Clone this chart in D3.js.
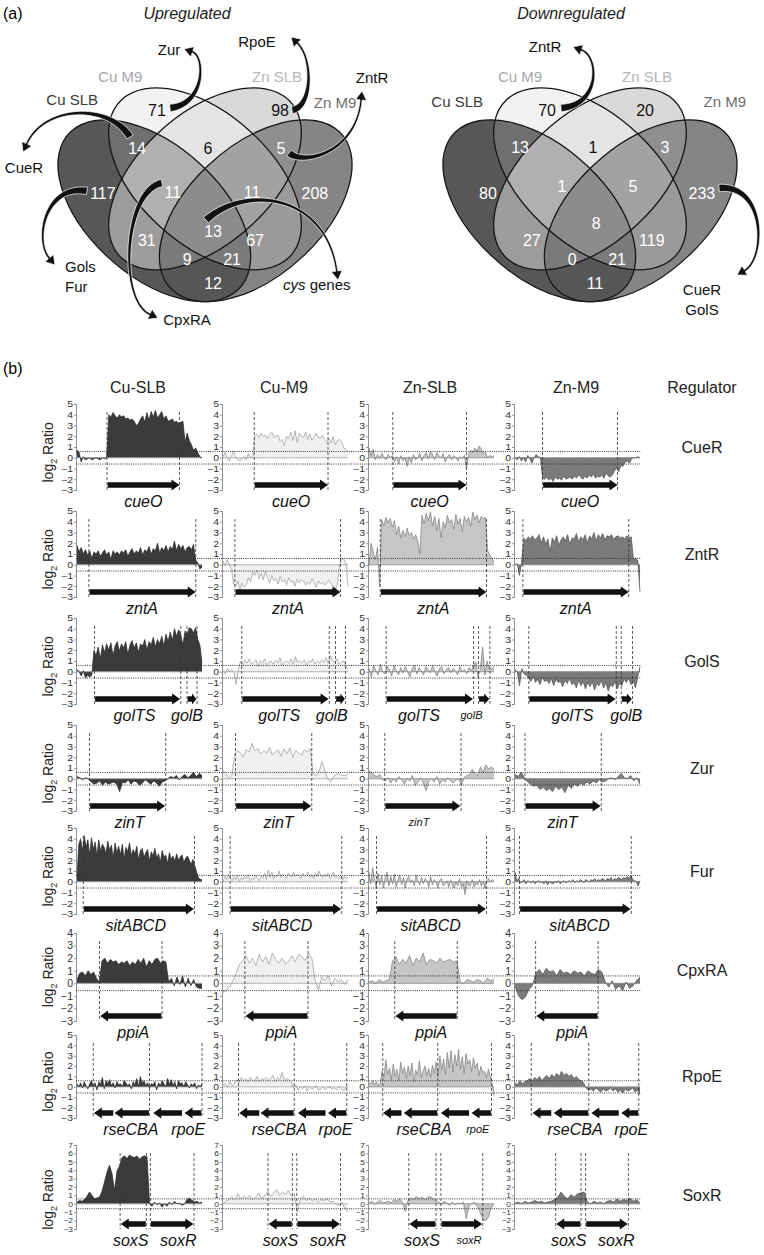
<!DOCTYPE html>
<html>
<head>
<meta charset="utf-8">
<script src="https://cdn.jsdelivr.net/npm/d3@7/dist/d3.min.js"></script>
<style>
html,body{margin:0;padding:0;background:#fff;}
svg{display:block;}
text{font-family:"Liberation Sans",Arial,Helvetica,sans-serif;}
</style>
</head>
<body>
<svg id="fig" width="764" height="1255"></svg>
<script>
// ================= (a) Venn data =================
const setNames = ["Cu SLB","Cu M9","Zn SLB","Zn M9"];
// region keys: digits = indices of sets the region belongs to
const regionKeys = ["0","1","2","3","01","12","23","02","13","03","012","123","013","023","0123"];
const upCounts   = [117,71,98,208,14,6,5,31,67,12,11,11,21,9,13];
const downCounts = [80,70,20,233,13,1,3,27,119,11,1,5,21,0,8];

// ================= (b) data =================
const colNames = ["Cu-SLB","Cu-M9","Zn-SLB","Zn-M9"];
const regulators = ["CueR","ZntR","GolS","Zur","Fur","CpxRA","RpoE","SoxR"];
const yMaxByRow = [5,5,5,5,5,4,5,7];
const yMinAll = -3;
const foldThreshold = 0.585;

// log2 ratio profiles (one array per column: Cu-SLB, Cu-M9, Zn-SLB, Zn-M9), samples evenly spaced along region
const prof_CueR = [
 [0.7,0.5,-0.4,0.1,-0.2,-0.1,0,-0.2,-0.1,0,-0.1,-0.2,0,-0.1,0,4.0,3.8,4.2,3.9,3.7,4.0,3.8,3.9,3.6,3.7,3.5,3.6,3.4,3.0,3.2,3.6,3.9,3.3,4.2,3.5,4.3,3.8,4.4,3.7,4.0,4.3,3.6,3.9,3.4,3.5,3.6,3.3,3.4,3.2,3.3,3.4,1.5,2.3,1.6,1.2,0.7,0.9,0.5,0.1,0.0],
 [0.1,0.5,0.0,-0.3,0.2,0.6,0.0,-0.2,-0.3,0.0,0.1,-0.2,0.4,0.0,0.1,2.0,2.2,1.9,2.3,2.0,2.1,1.8,2.2,2.4,1.9,2.0,2.1,1.5,1.7,1.1,2.0,1.8,2.4,1.6,2.5,1.4,2.3,2.0,1.9,2.4,1.7,2.2,1.6,2.0,2.3,1.9,1.8,2.1,1.7,1.5,1.8,1.4,2.0,1.2,1.6,1.7,1.5,0.9,0.8,0.6],
 [0.9,0.2,0.8,-0.2,0.3,-0.1,0.4,0.1,-0.2,0.3,0.0,0.2,-0.4,0.1,-0.6,0.2,-0.3,0.0,-0.8,0.1,-0.5,0.3,-0.2,0.0,0.4,-0.3,0.2,0.5,-0.1,0.6,0.3,-0.2,0.5,0.2,0.0,0.4,-0.4,0.1,0.3,-0.2,0.2,0.0,-0.3,0.1,-0.1,0.2,-1.1,0.3,0.7,0.5,0.9,0.6,1.1,0.8,0.4,0.5,0.0,0.2,0.1,0.2],
 [0.0,-0.2,0.1,-0.3,0.0,-0.4,0.2,-0.1,-0.5,0.0,0.3,0.1,0.0,-1.9,-2.0,-1.8,-2.1,-1.9,-2.2,-1.8,-2.0,-1.9,-2.1,-1.7,-2.0,-1.9,-1.8,-2.0,-1.7,-1.9,-1.6,-1.8,-2.0,-1.7,-1.9,-1.6,-1.8,-1.5,-1.9,-1.7,-1.8,-1.6,-1.9,-1.4,-1.7,-1.8,-1.6,-1.2,-1.0,-1.3,-0.7,-0.8,-0.4,-0.3,-0.5,-0.1,0.0,0.0,0.1,0.0]
];
const prof_ZntR = [
 [1.8,1.2,1.6,1.0,1.4,0.9,1.3,0.6,1.2,1.0,1.3,0.8,1.1,1.4,0.9,1.2,0.5,1.3,1.0,1.2,0.9,1.3,1.1,1.4,0.8,1.2,1.5,1.0,1.3,1.1,1.6,0.9,1.4,1.2,1.7,1.0,1.5,1.3,2.0,1.1,1.6,1.3,1.8,1.2,1.7,1.4,2.2,1.3,1.9,1.5,1.8,1.2,1.6,1.7,1.4,1.9,0.4,0.2,-0.4,-0.2],
 [0.3,-0.1,0.5,0.0,-0.4,-1.8,-2.0,-1.5,-2.3,-1.7,-2.1,-1.9,-1.2,-1.6,-0.7,-1.0,-0.5,-1.3,-0.8,-1.4,-0.6,-1.2,-1.7,-1.0,-1.5,-1.3,-1.8,-1.1,-1.6,-1.4,-1.9,-1.2,-1.6,-1.5,-2.0,-1.3,-1.7,-1.4,-1.5,-1.9,-1.6,-1.8,-1.3,-1.7,-2.1,-1.5,-1.8,-1.6,-1.9,-1.7,-1.4,-1.8,-2.0,-2.3,-1.9,0.0,0.6,0.5,0.2,-2.0],
 [-0.1,2.0,1.2,0.5,1.6,-2.0,4.2,3.6,4.4,3.9,4.3,3.5,4.1,2.8,3.6,2.5,3.2,2.6,3.4,2.7,3.0,2.4,2.8,2.2,1.0,4.6,3.8,4.8,4.1,4.9,3.6,4.5,3.2,4.3,2.5,4.0,3.4,4.6,3.9,4.2,3.3,4.7,3.8,4.3,3.1,4.5,4.0,4.4,3.6,4.9,4.2,4.6,3.9,4.5,4.3,4.4,1.3,0.9,0.6,0.2],
 [0.0,0.1,-1.0,0.2,2.5,2.2,2.6,2.4,2.7,2.3,2.5,2.8,2.0,2.6,1.9,2.4,1.2,2.5,2.1,2.7,1.8,2.3,2.6,2.2,2.8,1.9,2.5,2.4,2.9,2.1,2.6,2.3,2.8,2.0,2.7,2.4,3.0,2.2,2.8,2.5,2.9,2.3,2.7,2.6,2.8,2.4,2.6,2.7,2.5,2.6,2.4,2.7,2.5,2.6,0.5,0.6,0.4,-2.5]
];
const prof_GolS = [
 [0.2,0.0,-0.4,0.1,-0.6,-0.3,-0.5,-0.3,2.0,1.5,2.3,1.2,2.5,1.8,2.6,2.0,2.7,1.5,2.4,2.8,1.9,2.6,2.2,2.8,1.6,2.5,2.9,2.2,2.7,1.8,2.6,2.4,3.0,2.0,2.8,2.5,3.2,2.3,3.0,2.6,3.3,2.4,3.5,2.8,3.7,2.9,4.0,3.3,3.9,3.4,2.5,3.8,3.5,4.1,4.0,3.6,4.1,3.0,2.5,0.8],
 [0.1,-0.2,0.3,0.0,0.2,-0.1,-1.2,0.2,1.0,0.6,1.1,0.8,1.2,0.7,0.9,1.1,0.5,1.0,0.8,1.2,0.6,0.9,1.0,0.7,1.1,0.8,1.3,0.6,0.9,1.0,0.8,1.2,0.7,1.4,0.9,1.0,0.8,1.1,0.6,1.0,0.9,1.2,0.7,1.0,0.8,1.1,0.9,1.3,0.8,1.5,1.0,0.9,1.2,0.7,0.9,1.0,0.6,0.2],
 [0.3,-0.5,0.6,0.1,-0.3,0.7,0.0,-0.2,0.5,0.2,-0.4,0.6,0.1,-0.3,0.4,-0.1,0.5,0.0,-0.5,0.3,0.6,-0.2,0.4,0.1,-0.3,0.5,0.2,-0.1,0.6,0.0,-0.4,0.3,0.5,-0.2,0.2,0.4,-0.1,0.3,0.1,-0.3,0.5,0.0,0.2,-0.2,0.4,0.1,0.6,0.9,-0.5,0.3,2.3,-0.3,1.0,0.2,0.3,0.5],
 [0.2,0.0,-1.3,0.3,-0.2,-0.3,-0.6,-0.9,-0.4,-1.0,-0.7,-1.2,-0.5,-0.9,-0.8,-1.1,-0.6,-1.3,-0.7,-1.0,-0.9,-1.4,-0.8,-1.1,-0.6,-1.2,-1.0,-1.5,-0.8,-1.3,-0.9,-1.6,-1.0,-1.4,-0.9,-1.7,-1.1,-1.3,-0.8,-1.5,-1.0,-1.8,-1.2,-1.4,-0.9,-1.6,-1.1,-1.3,-0.7,-1.0,-0.6,-1.2,-0.8,-1.5,-0.5,0.5]
];
const prof_Zur = [
 [0.2,0.1,-0.1,0.1,0.0,-0.3,-0.5,-0.4,-0.2,-0.6,-0.3,-0.5,-0.4,-0.3,-0.5,-1.2,-0.3,-0.4,-0.1,-0.5,-0.2,-0.3,-0.6,-0.4,-0.1,-0.3,-0.5,-0.2,-0.4,-0.7,-0.3,-0.2,0.0,0.2,0.1,0.3,-0.1,0.2,0.4,0.1,0.3,0.6,0.2,0.5,0.3],
 [0.8,0.5,0.0,0.3,2.3,2.6,2.4,2.0,2.7,2.5,3.3,2.6,2.8,2.3,2.6,2.4,2.9,2.2,2.5,2.7,2.1,2.8,2.3,2.9,2.0,2.6,2.4,2.2,2.7,2.5,2.8,0.5,0.3,0.6,1.6,0.8,0.0,-0.3,0.2,0.4,0.5,0.3,0.3,0.4],
 [0.7,0.6,0.3,0.2,0.4,-0.1,-0.2,0.1,-0.4,0.0,-0.3,0.2,-0.1,-0.5,0.0,-0.2,0.3,-0.6,-0.3,0.1,-0.4,-1.1,-0.2,0.0,-0.3,0.2,-0.5,-0.1,-0.3,0.1,-0.2,-0.4,-0.1,0.0,-0.6,0.1,0.3,0.4,0.9,0.5,0.3,1.1,0.6,1.3,0.9,1.1,0.9],
 [0.4,0.2,0.6,0.1,-0.3,-0.5,-0.7,-0.6,-1.0,-0.8,-1.1,-0.9,-1.2,-0.7,-1.0,-0.8,-1.3,-0.6,-0.9,-0.5,-0.7,-0.4,-0.6,-0.3,-0.5,-0.2,-0.4,-0.1,-0.3,-0.2,0.0,0.1,-0.1,0.2,0.5,0.1,0.0,0.3,-0.2,0.1,-0.5]
];
const prof_Fur = [
 [0.5,3.5,4.0,2.8,4.3,3.2,3.9,2.5,4.1,3.0,3.7,2.4,3.9,2.8,3.5,3.2,2.6,3.8,2.9,3.4,2.2,3.6,2.7,3.3,2.5,3.5,2.1,3.2,2.8,3.6,2.4,3.0,2.6,3.3,2.0,2.9,3.1,2.3,2.7,3.0,1.9,2.8,2.4,3.1,2.2,2.6,1.8,2.9,2.3,2.5,1.7,2.7,2.1,2.4,1.9,2.6,2.0,2.3,2.5,1.8,2.2,2.4,2.0,1.6,2.1,1.5,0.9,0.4,0.2,0.2],
 [0.0,0.5,0.2,0.7,0.3,0.1,0.5,0.2,0.6,0.0,0.4,0.2,0.5,0.3,0.7,0.1,0.4,0.2,0.6,0.3,0.1,0.5,0.3,0.8,0.2,1.1,0.4,0.9,0.3,0.6,0.5,1.0,0.4,0.7,0.5,0.3,0.8,0.6,0.4,0.9,0.5,0.7,0.6,0.3,0.8,0.5,0.6,0.9,0.4,0.7,0.3,0.8,0.5,1.0,0.6,0.4,0.7,0.5,0.8,0.3,0.6,0.9,0.4,0.5,0.3,0.6,0.2,0.5,0.3,0.4],
 [0.9,-0.2,1.3,0.3,-0.5,0.8,-0.3,0.6,-0.6,0.4,0.9,-0.4,0.5,-0.2,0.7,-0.5,0.2,0.6,-0.3,0.4,-0.6,0.3,0.5,-0.1,0.2,-0.4,0.6,0.0,-0.3,0.4,-0.2,0.3,0.1,-0.5,0.5,-0.3,0.2,0.0,-0.6,0.1,0.3,-0.4,-0.2,0.1,-0.5,0.2,-0.3,-0.6,0.0,-0.4,0.3,-0.5,-0.2,-1.2,0.1,-0.4,-0.3,0.2,-0.5,-0.1,-0.3,0.2,-0.4,0.0,-0.6,0.1,0.3,0.0,0.2,0.1],
 [0.9,0.1,0.3,-0.1,0.0,0.2,-0.2,0.1,0.0,-0.1,0.1,-0.2,0.0,0.1,-0.1,0.0,-0.2,0.1,-0.3,0.0,-0.1,-0.2,0.0,-0.1,0.1,-0.2,0.0,0.1,-0.1,0.0,0.1,0.0,0.2,-0.1,0.1,0.0,0.2,0.1,-0.1,0.2,0.1,0.0,0.2,0.1,0.3,0.0,0.2,0.1,0.3,0.2,0.1,0.3,0.2,0.4,0.1,0.3,0.2,0.4,0.3,0.2,0.4,0.3,0.5,0.3,0.6,0.2,0.1,0.0,-0.4,0.1]
];
const prof_CpxRA = [
 [0.3,0.8,0.9,0.6,1.0,0.7,0.9,0.4,0.1,1.8,2.0,1.6,1.9,1.7,1.8,1.5,1.7,1.6,1.8,1.4,1.7,1.5,1.9,1.6,2.0,1.3,1.8,1.5,1.9,2.0,1.6,1.8,1.7,0.1,0.4,-0.2,0.5,-0.1,0.6,-0.3,0.4,-0.2,0.3,-0.3,-0.4,-0.4],
 [-0.7,-0.6,-0.3,0.2,0.8,1.5,1.8,2.2,1.6,2.0,1.4,2.3,1.7,2.1,1.5,2.4,1.9,1.6,2.0,1.5,1.8,2.2,1.7,2.3,2.1,1.8,2.4,2.0,0.3,-0.6,0.5,0.2,0.6,-0.2,0.4,0.1,0.3,-0.1,0.3],
 [0.1,0.2,0.0,0.3,0.1,0.2,0.3,1.8,2.1,1.5,1.9,1.6,2.2,1.4,2.0,1.7,2.4,1.5,1.9,1.8,1.6,2.0,1.7,1.8,1.9,1.7,1.8,0.1,0.0,0.3,0.2,0.1,0.3,0.2,0.0,0.4,0.2,0.3],
 [-0.2,-1.0,-1.3,-1.1,-0.5,-0.2,0.8,1.1,0.7,1.2,0.9,1.0,0.6,1.1,0.8,0.9,0.7,1.0,0.8,0.9,0.6,1.0,0.8,0.7,1.1,0.9,0.1,-0.3,0.2,-0.5,-0.2,-0.6,0.1,-0.4,-0.2,0.2,0.5]
];
const prof_RpoE = [
 [0.3,0.0,0.4,-0.1,0.5,0.1,-0.2,0.3,0.6,0.0,0.4,-0.3,0.5,0.2,0.9,-0.2,0.6,0.3,0.7,0.1,0.4,-0.1,0.5,0.2,0.3,0.0,0.6,0.4,0.1,0.3,-0.2,0.5,0.2,0.8,0.0,1.0,0.3,0.6,0.1,0.4,-0.1,0.3,0.2,0.5,-0.3,0.4,0.1,0.6,0.3,0.0,0.8,0.2,0.7,0.1,0.5,-0.2,0.6,0.3,0.4,0.0,0.5,0.2,-0.1,0.3,0.1,0.4,-0.2,0.2,0.0,0.3],
 [0.2,0.3,0.0,0.5,0.1,0.3,0.7,0.4,0.9,0.6,0.8,0.5,0.9,0.7,0.6,1.0,0.5,0.8,0.7,0.9,0.6,0.8,1.1,0.5,0.9,0.7,1.4,0.6,0.8,0.7,0.5,-0.1,0.2,-0.3,0.0,-0.2,0.1,-0.4,0.0,-0.2,-0.1,0.1,-0.3,-0.2,0.0,-0.3,-0.1,0.0,-0.2,-0.1,-0.3,0.0,-0.2,-0.4,-0.1,0.0],
 [0.4,0.3,0.6,0.2,0.5,0.1,0.4,1.5,0.9,2.6,1.2,1.8,0.7,2.2,1.0,1.7,0.6,2.4,1.3,1.9,0.8,2.0,1.1,2.3,0.5,1.6,1.2,2.5,0.9,1.5,2.0,1.1,1.8,0.9,2.1,1.3,2.4,1.0,3.0,1.6,2.7,1.2,3.3,1.8,3.5,1.4,3.1,2.0,3.6,1.7,2.9,1.3,3.2,2.2,2.6,1.5,2.8,1.8,2.3,1.1,2.0,1.4,1.5,0.9,1.7,1.0,0.3,-0.8],
 [0.4,0.2,0.6,0.3,0.5,0.6,0.8,0.5,0.9,0.7,1.0,0.6,0.9,1.1,0.8,1.2,0.9,1.3,1.0,1.5,1.1,1.3,1.0,1.2,0.8,1.0,0.7,0.6,0.4,-0.1,-0.3,-0.2,-0.4,-0.1,-0.3,-0.5,-0.2,-0.4,-0.3,-0.1,-0.4,-0.2,-0.5,-0.3,-0.6,-0.2,-0.4,-0.3,-0.1,-0.5,-0.3,-0.7]
];
const prof_SoxR = [
 [0.2,0.4,0.3,0.5,0.9,1.4,1.0,0.6,0.7,0.8,1.5,2.6,3.8,4.6,3.6,1.6,3.9,4.5,5.5,5.7,5.4,5.8,5.6,5.5,5.7,5.3,5.6,5.7,5.6,0.2,-0.3,0.2,-0.1,0.1,-0.4,0.0,-0.3,0.2,-0.1,0.3,0.0,0.1,-0.2,0.0,0.5,0.7,0.4,0.2,0.3,0.1,0.2],
 [0.0,0.3,0.5,0.8,0.4,1.2,0.6,0.9,0.7,1.0,0.5,0.8,1.3,0.6,1.0,1.5,0.9,1.3,1.7,1.0,1.4,1.1,1.6,0.9,1.2,-1.0,0.6,0.9,0.4,0.7,0.3,0.6,0.2,0.5,0.4,0.6,0.2,0.3,0.0,-0.2,0.2,-0.6,-1.0],
 [0.1,0.3,0.0,0.2,0.4,0.1,0.2,0.3,0.1,0.5,0.3,0.6,0.2,-0.9,0.4,0.7,0.5,0.9,0.6,0.8,0.5,0.7,0.9,0.6,0.4,0.2,0.0,0.3,0.1,-0.2,0.2,-0.1,0.1,0.0,0.2,-1.8,-0.3,0.0,0.2,-0.3,-1.0,-1.9,-2.0,-1.6,-0.5,0.0],
 [0.1,0.2,0.0,0.3,0.1,0.2,0.4,0.2,0.3,0.1,0.2,0.3,0.5,0.8,1.4,0.9,0.6,1.1,0.8,1.2,1.3,1.4,0.2,0.0,0.3,0.1,0.2,0.0,0.3,0.4,0.2,0.6,0.3,0.5,0.4,0.7,0.3,0.5,0.1]
];

// gene annotation (positions in % of panel region): dash = boundary lines, arr = [start,end,direction], lab = [name, centre]
const genes_CueR = [
 {dash:[24,82], arr:[[24.5,82,1]], lab:[["cueO",53]]},
 {dash:[25,84], arr:[[25.5,84,1]], lab:[["cueO",54.5]]},
 {dash:[19,78], arr:[[19.5,78,1]], lab:[["cueO",48.5]]},
 {dash:[22,82], arr:[[22.5,82,1]], lab:[["cueO",52]]}];
const genes_ZntR = [
 {dash:[9.5,95], arr:[[10,95,1]], lab:[["zntA",52]]},
 {dash:[9.5,94], arr:[[10,94,1]], lab:[["zntA",52]]},
 {dash:[9,94], arr:[[9.5,94,1]], lab:[["zntA",51.5]]},
 {dash:[6.3,91], arr:[[6.8,91,1]], lab:[["zntA",48.6]]}];
const genes_GolS = [
 {dash:[14,83,88,96], arr:[[14.5,82.5,1],[88.5,95.5,1]], lab:[["golTS",46],["golB",88]]},
 {dash:[15,85,90,98], arr:[[15.5,84.5,1],[90.5,97.5,1]], lab:[["golTS",45],["golB",87]]},
 {dash:[13.7,83.7,87.6,96.7], arr:[[14.2,83.2,1],[88.1,96.2,1]], lab:[["golTS",40],["golB",82]]},
 {dash:[11,81,85,94], arr:[[11.5,80.5,1],[85.5,93.5,1]], lab:[["golTS",46],["golB",89]]}];
const genes_Zur = [
 {dash:[10,71], arr:[[10.5,70.5,1]], lab:[["zinT",42]]},
 {dash:[10,71], arr:[[10.5,70.5,1]], lab:[["zinT",44.4]]},
 {dash:[12.6,73.6], arr:[[13.1,73.1,1]], lab:[["zinT",40]]},
 {dash:[8,69], arr:[[8.5,68.5,1]], lab:[["zinT",38]]}];
const genes_Fur = [
 {dash:[5,94], arr:[[5.5,93.5,1]], lab:[["sitABCD",47]]},
 {dash:[5.7,95], arr:[[6.2,94.5,1]], lab:[["sitABCD",47.3]]},
 {dash:[6,94], arr:[[6.5,93.5,1]], lab:[["sitABCD",49.3]]},
 {dash:[3.6,93], arr:[[4.1,92.5,1]], lab:[["sitABCD",51.6]]}];
const genes_CpxRA = [
 {dash:[18,68], arr:[[18.5,67.5,-1]], lab:[["ppiA",45]]},
 {dash:[17.5,68], arr:[[18,67.5,-1]], lab:[["ppiA",46.8]]},
 {dash:[20.6,70.6], arr:[[21.1,70.1,-1]], lab:[["ppiA",49.8]]},
 {dash:[16.5,66.5], arr:[[17,66,-1]], lab:[["ppiA",45.8]]}];
const genes_RpoE = [
 {dash:[13,58,100], arr:[[13.5,29,-1],[30,57.5,-1],[61,84,-1],[86,99.5,-1]], lab:[["rseCBA",43],["rpoE",89]]},
 {dash:[12.4,57,99], arr:[[12.9,29,-1],[30,56.5,-1],[60,82,-1],[84,98.5,-1]], lab:[["rseCBA",45],["rpoE",90]]},
 {dash:[11,55,98], arr:[[11.2,26,-1],[27.8,54.5,-1],[57.5,80,-1],[82,97.5,-1]], lab:[["rseCBA",44],["rpoE",87]]},
 {dash:[13,59,99], arr:[[14,29,-1],[31,58.5,-1],[61,83,-1],[85,98.5,-1]], lab:[["rseCBA",48],["rpoE",93]]}];
const genes_SoxR = [
 {dash:[34.5,55.5,58.7,93.6], arr:[[35,55,-1],[59.2,93.1,1]], lab:[["soxS",43],["soxR",81]]},
 {dash:[36,55.5,59,94], arr:[[36.5,55,-1],[59.5,93.5,1]], lab:[["soxS",46],["soxR",84]]},
 {dash:[31.8,53.6,57.5,91], arr:[[32.3,53.1,-1],[58,90.5,1]], lab:[["soxS",42.5],["soxR",80]]},
 {dash:[32.5,52.8,56.5,90.7], arr:[[33,52.3,-1],[57,90.2,1]], lab:[["soxS",43],["soxR",81]]}];
// gene names printed in the smaller font (row, column, name)
const smallGeneLabels = [[2,2,"golB"],[3,2,"zinT"],[6,2,"rpoE"],[7,2,"soxR"]];

// ================= styling / layout =================
const regionFill = ["#575757","#f2f2f2","#d9d9d9","#858585","#6f6f6f","#e4e4e4","#8f8f8f","#9c9c9c","#9a9a9a","#565656","#b0b0b0","#a2a2a2","#7a7a7a","#7a7a7a","#8c8c8c"];
const regionTextColor = ["#fff","#111","#111","#fff","#fff","#111","#fff","#fff","#fff","#fff","#fff","#fff","#fff","#fff","#fff"];
const setLabelColor = ["#3a3a3a","#a6a6a6","#b6b6b6","#6d6d6d"];
const ellCx=[0.35,0.5,0.5,0.65], ellCy=[0.47,0.57,0.57,0.47], ellRot=[135,135,45,45], ellA=0.35, ellB=0.2;
const upLabelPos=[[0.198,0.526],[0.358,0.785],[0.722,0.785],[0.825,0.526],[0.299,0.664],[0.509,0.664],[0.725,0.664],[0.328,0.378],[0.648,0.378],[0.524,0.243],[0.405,0.529],[0.639,0.529],[0.580,0.316],[0.447,0.316],[0.524,0.404]];
const downLabelPos=[[0.198,0.526],[0.373,0.785],[0.663,0.785],[0.831,0.526],[0.293,0.670],[0.509,0.670],[0.722,0.670],[0.328,0.378],[0.683,0.378],[0.515,0.243],[0.417,0.545],[0.627,0.545],[0.580,0.316],[0.447,0.316],[0.518,0.430]];
const upSetLabelPos=[[0.107,0.817],[0.249,0.889],[0.713,0.889],[0.885,0.808]];
const downSetLabelPos=[[0.107,0.811],[0.293,0.889],[0.669,0.889],[0.899,0.811]];
const upCallouts = [
 {lines:["Zur"], x:169, y:50, anchor:"middle", path:[[170,108],[206,104],[205,56],[184,49]]},
 {lines:["RpoE"], x:257, y:42, anchor:"middle", path:[[292,110],[313,107],[313,58],[291,37]]},
 {lines:["ZntR"], x:372, y:78, anchor:"middle", path:[[289,153],[305,166],[356,152],[362,91]]},
 {lines:["CueR"], x:24, y:168, anchor:"middle", path:[[130,137],[110,104],[45,104],[23,152]]},
 {lines:["Gols","Fur"], x:65, y:267, anchor:"start", path:[[87,191],[45,184],[34,240],[55,265]]},
 {lines:["CpxRA"], x:187, y:320, anchor:"middle", path:[[162,183],[124,190],[118,300],[158,318]]},
 {lines:["cys genes"], x:283, y:285, anchor:"start", italicFirst:true, path:[[206,220],[246,184],[326,194],[338,280]]}
];
const downCallouts = [
 {lines:["ZntR"], x:545, y:47, anchor:"middle", path:[[561,108],[601,105],[599,56],[573,47]]},
 {lines:["CueR","GolS"], x:702, y:290, anchor:"middle", path:[[719,188],[766,184],[766,258],[737,275]]}
];

const svg = d3.select("#fig");
const defs = svg.append("defs");

// ---------------- (a) ----------------
svg.append("text").attr("x",3).attr("y",19).attr("font-size",16).text("(a)");
svg.append("text").attr("x",187).attr("y",19).attr("font-size",16).attr("font-style","italic").attr("text-anchor","middle").attr("fill","#222").text("Upregulated");
svg.append("text").attr("x",571).attr("y",19).attr("font-size",16).attr("font-style","italic").attr("text-anchor","middle").attr("fill","#222").text("Downregulated");

const vennW = 338, vennH = 319, vennBase = 360.7;

function bez(P,t){const u=1-t;return [u*u*u*P[0][0]+3*u*u*t*P[1][0]+3*u*t*t*P[2][0]+t*t*t*P[3][0], u*u*u*P[0][1]+3*u*u*t*P[1][1]+3*u*t*t*P[2][1]+t*t*t*P[3][1]];}
function bezD(P,t){const u=1-t;return [3*u*u*(P[1][0]-P[0][0])+6*u*t*(P[2][0]-P[1][0])+3*t*t*(P[3][0]-P[2][0]), 3*u*u*(P[1][1]-P[0][1])+6*u*t*(P[2][1]-P[1][1])+3*t*t*(P[3][1]-P[2][1])];}
function swoosh(g, pts){
  const tip=pts[3], p2=pts[2];
  let dx=tip[0]-p2[0], dy=tip[1]-p2[1]; const L=Math.hypot(dx,dy); dx/=L; dy/=L;
  const headL=9, headW=5.5;
  const base=[tip[0]-dx*headL, tip[1]-dy*headL];
  const P=[pts[0],pts[1],pts[2],base];
  const N=48, left=[], right=[];
  for(let i=0;i<=N;i++){
    const t=i/N, b=bez(P,t), d=bezD(P,t), l=Math.hypot(d[0],d[1])||1;
    const nx=-d[1]/l, ny=d[0]/l;
    const w=(2.2+(7.5-2.2)*Math.pow(1-t,2.2))/2;
    left.push([b[0]+nx*w,b[1]+ny*w]); right.push([b[0]-nx*w,b[1]-ny*w]);
  }
  const poly=left.concat([[base[0]-dy*headW, base[1]+dx*headW],[tip[0],tip[1]],[base[0]+dy*headW, base[1]-dx*headW]]).concat(right.reverse());
  g.append("path").attr("d", d3.line()(poly)+"Z").attr("fill","#111").attr("stroke","#fff").attr("stroke-width",0.7).attr("stroke-linejoin","round");
}

function drawVenn(idx, frameX, counts, labelPos, setPos, callouts){
  const xs=d3.scaleLinear().domain([0,1]).range([frameX, frameX+vennW]);
  const ys=d3.scaleLinear().domain([0,1]).range([vennBase, vennBase-vennH]);
  const kx=xs(1)-xs(0), ky=ys(1)-ys(0);
  const g=svg.append("g").attr("transform",`translate(${xs(0)},${ys(0)}) scale(${kx},${ky})`);
  for(let i=0;i<4;i++){
    defs.append("clipPath").attr("id",`v${idx}c${i}`).append("ellipse")
      .attr("rx",ellA).attr("ry",ellB).attr("transform",`translate(${ellCx[i]},${ellCy[i]}) rotate(${ellRot[i]})`);
  }
  const order=regionKeys.map((k,i)=>i).sort((a,b)=>regionKeys[a].length-regionKeys[b].length);
  order.forEach(ri=>{
    let gg=g;
    for(const ch of regionKeys[ri]) gg=gg.append("g").attr("clip-path",`url(#v${idx}c${ch})`);
    gg.append("rect").attr("x",-0.1).attr("y",-0.1).attr("width",1.2).attr("height",1.2).attr("fill",regionFill[ri]);
  });
  for(let i=0;i<4;i++){
    g.append("ellipse").attr("rx",ellA).attr("ry",ellB).attr("transform",`translate(${ellCx[i]},${ellCy[i]}) rotate(${ellRot[i]})`)
      .attr("fill","none").attr("stroke","#161616").attr("stroke-width",1.3).attr("vector-effect","non-scaling-stroke");
  }
  setNames.forEach((s,i)=>{
    svg.append("text").attr("x",xs(setPos[i][0])).attr("y",ys(setPos[i][1])).attr("dy","0.35em")
      .attr("text-anchor","middle").attr("font-size",15).attr("fill",setLabelColor[i]).text(s);
  });
  const ag=svg.append("g");
  callouts.forEach(c=>swoosh(ag,c.path));
  counts.forEach((c,i)=>{
    svg.append("text").attr("x",xs(labelPos[i][0])).attr("y",ys(labelPos[i][1])).attr("dy","0.35em")
      .attr("text-anchor","middle").attr("font-size",16).attr("fill",regionTextColor[i]).text(c);
  });
  callouts.forEach(c=>{
    c.lines.forEach((ln,j)=>{
      const t=svg.append("text").attr("x",c.x).attr("y",c.y+j*20).attr("dy","0.35em").attr("text-anchor",c.anchor).attr("font-size",15).attr("fill","#111");
      if(c.italicFirst){ const parts=ln.split(" "); t.append("tspan").attr("font-style","italic").text(parts[0]); t.append("tspan").text(" "+parts.slice(1).join(" ")); }
      else t.text(ln);
    });
  });
}
drawVenn(0, 36, upCounts, upLabelPos, upSetLabelPos, upCallouts);
drawVenn(1, 421, downCounts, downLabelPos, downSetLabelPos, downCallouts);

// ---------------- (b) ----------------
const profileRows=[prof_CueR,prof_ZntR,prof_GolS,prof_Zur,prof_Fur,prof_CpxRA,prof_RpoE,prof_SoxR];
const geneRows=[genes_CueR,genes_ZntR,genes_GolS,genes_Zur,genes_Fur,genes_CpxRA,genes_RpoE,genes_SoxR];
const rowTops=[404,511,618,725,828,933,1035,1145];
const rowHeights=[86,86,86,86,86,88,83,84];
const panelW=126, axisX0=76, colPitch=146;
const colFill=["#3b3b3b","#f0f0f0","#c6c6c6","#7b7b7b"];
const colLine=["#262626","#9a9a9a","#7a7a7a","#4f4f4f"];
const colBase=["#9a9a9a","#b5b5b5","#9a9a9a","#8a8a8a"];

svg.append("text").attr("x",3).attr("y",374).attr("font-size",16).text("(b)");
colNames.forEach((c,j)=>{
  svg.append("text").attr("x",axisX0+j*colPitch+62).attr("y",393).attr("text-anchor","middle").attr("font-size",16).attr("fill","#222").text(c);
});
svg.append("text").attr("x",702).attr("y",393).attr("text-anchor","middle").attr("font-size",16).attr("fill","#222").text("Regulator");

profileRows.forEach((prof,r)=>{
  const top=rowTops[r], ph=rowHeights[r];
  const y=d3.scaleLinear().domain([yMinAll,yMaxByRow[r]]).range([top+ph, top]);
  const rg=svg.append("g");
  // regulator name
  rg.append("text").attr("x",702).attr("y",y(1)).attr("dy","0.35em").attr("text-anchor","middle").attr("font-size",16).attr("fill","#222").text(regulators[r]);
  // y label
  const yl=rg.append("text").attr("transform",`translate(48,${y(0.5)}) rotate(-90)`).attr("text-anchor","middle").attr("dy","0.35em").attr("font-size",14).attr("fill","#222");
  yl.append("tspan").text("log");
  yl.append("tspan").attr("font-size",9).attr("dy","4").text("2");
  yl.append("tspan").attr("dy","-4").text(" Ratio");
  const spacing=ph/(yMaxByRow[r]-yMinAll);
  const tfs=Math.min(10.5, spacing*1.0);
  const tsy=Math.min(1, spacing*0.95/(tfs*1.16));
  prof.forEach((vals,c)=>{
    const x0=axisX0+c*colPitch;
    const x=d3.scaleLinear().domain([0,100]).range([x0+1,x0+panelW]);
    const pts=vals.map((v,i)=>[i*100/(vals.length-1), v]);
    const pg=rg.append("g");
    pg.append("path").attr("d", d3.area().x(d=>x(d[0])).y0(y(0)).y1(d=>y(d[1]))(pts)).attr("fill",colFill[c]);
    pg.append("line").attr("x1",x(0)).attr("x2",x(100)).attr("y1",y(0)).attr("y2",y(0)).attr("stroke",colBase[c]).attr("stroke-width",1);
    pg.append("path").attr("d", d3.line().x(d=>x(d[0])).y(d=>y(d[1]))(pts)).attr("fill","none").attr("stroke",colLine[c]).attr("stroke-width",0.7);
    const gn=geneRows[r][c];
    gn.dash.forEach(dv=>{
      pg.append("line").attr("x1",x(dv)).attr("x2",x(dv)).attr("y1",top+8).attr("y2",y(yMinAll)).attr("stroke","#333").attr("stroke-width",0.8).attr("stroke-dasharray","3,2");
    });
    const ay=y(yMinAll)-5;
    gn.arr.forEach(a=>{
      const xa=x(a[0]), xb=x(a[1]), dir=a[2];
      const h=2.8, H=5.5, hl=Math.min(8,(xb-xa)*0.5);
      let poly;
      if(dir>0) poly=[[xa,ay-h],[xb-hl,ay-h],[xb-hl,ay-H],[xb,ay],[xb-hl,ay+H],[xb-hl,ay+h],[xa,ay+h]];
      else poly=[[xb,ay-h],[xa+hl,ay-h],[xa+hl,ay-H],[xa,ay],[xa+hl,ay+H],[xa+hl,ay+h],[xb,ay+h]];
      pg.append("path").attr("d",d3.line()(poly)+"Z").attr("fill","#111");
    });
    gn.lab.forEach(l=>{
      const small=smallGeneLabels.some(s=>s[0]===r&&s[1]===c&&s[2]===l[0]);
      pg.append("text").attr("x",x(l[1])).attr("y",y(yMinAll)+(small?15:17)).attr("text-anchor","middle")
        .attr("font-size",small?11:16).attr("font-style","italic").attr("fill","#111").text(l[0]);
    });
    // axis
    const ax=pg.append("g").attr("transform",`translate(${x0},0)`)
      .call(d3.axisLeft(y).tickValues(d3.range(yMinAll,yMaxByRow[r]+1)).tickSize(2).tickPadding(1)
        .tickFormat(d=>d<0?"\u2212"+(-d):String(d)));
    ax.attr("font-family",null).attr("font-size",null);
    ax.selectAll("text").attr("font-size",tfs).attr("fill","#333").attr("transform",`scale(1,${tsy})`);
    ax.selectAll("path,line").attr("stroke","#777").attr("stroke-width",0.8);
  });
  // threshold lines spanning all panels
  [foldThreshold,-foldThreshold].forEach(t=>{
    rg.append("line").attr("x1",axisX0).attr("x2",axisX0+3*colPitch+panelW+1).attr("y1",y(t)).attr("y2",y(t))
      .attr("stroke","#333").attr("stroke-width",1).attr("stroke-dasharray","1,1.2");
  });
});
</script>
</body>
</html>
